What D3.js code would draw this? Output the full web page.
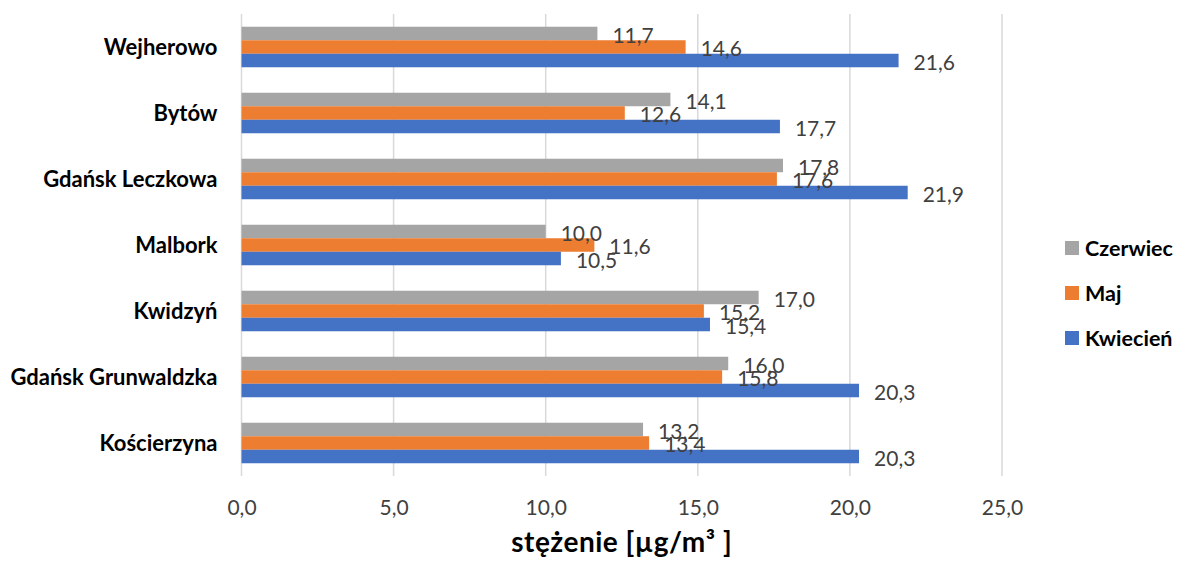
<!DOCTYPE html>
<html><head><meta charset="utf-8">
<script src="https://cdn.jsdelivr.net/npm/d3@7"></script>
<style>body{margin:0;background:#fff}svg{display:block}</style>
</head><body>
<svg id="c" width="1178" height="565"></svg>
<script>
const categories = ["Wejherowo","Bytów","Gdańsk Leczkowa","Malbork","Kwidzyń","Gdańsk Grunwaldzka","Kościerzyna"];
const seriesNames = ["Czerwiec","Maj","Kwiecień"];
const czerwiec = [11.7,14.1,17.8,10.0,17.0,16.0,13.2];
const maj = [14.6,12.6,17.6,11.6,15.2,15.8,13.4];
const kwiecien = [21.6,17.7,21.9,10.5,15.4,20.3,20.3];
const tickValues = [0,5,10,15,20,25];
const colors = ["#A5A5A5","#ED7D31","#4472C4"];
const axisTitle = "stężenie [µg/m³ ]";

const seriesValues = [czerwiec, maj, kwiecien];
const fmt = v => d3.format(".1f")(v).replace(".", ",");
const font = "Lato, 'Open Sans', sans-serif";

const svg = d3.select("#c");
const pLeft = 241.5, pRight = 1002, pTop = 14, pBottom = 476;
const x = d3.scaleLinear().domain([0,25]).range([pLeft,pRight]);
const y0 = d3.scaleBand().domain(categories).range([pTop,pBottom]).paddingInner(0.386).paddingOuter(0.193);
const y1 = d3.scaleBand().domain(seriesNames).range([0,y0.bandwidth()]);

// gridlines
svg.append("g").selectAll("line").data(tickValues).join("line")
  .attr("x1", d=>x(d)).attr("x2", d=>x(d)).attr("y1", pTop).attr("y2", pBottom)
  .attr("stroke", "#D9D9D9").attr("stroke-width", 1.5);

// bars
const groups = svg.append("g").selectAll("g").data(categories).join("g")
  .attr("transform", d=>`translate(0,${y0(d)})`);
groups.selectAll("rect").data((c,i)=>seriesNames.map((s,j)=>({s, j, v: seriesValues[j][i]}))).join("rect")
  .attr("x", x(0)).attr("y", d=>y1(d.s)).attr("height", y1.bandwidth())
  .attr("width", d=>x(d.v)-x(0)).attr("fill", d=>colors[d.j]);

// value labels
groups.selectAll("text").data((c,i)=>seriesNames.map((s,j)=>({s, j, v: seriesValues[j][i]}))).join("text")
  .attr("x", d=>x(d.v)+15).attr("y", d=>y1(d.s)+y1.bandwidth()/2+1)
  .attr("dominant-baseline","central")
  .attr("font-family", font).attr("font-size", 21).attr("fill", "#404040")
  .text(d=>fmt(d.v));

// category labels
const yAxis = d3.axisLeft(y0).tickSize(0).tickPadding(24);
const ya = svg.append("g").attr("transform", `translate(${pLeft},0)`).call(yAxis);
ya.select(".domain").remove();
ya.selectAll("text").attr("font-family", font).attr("font-size", 22).attr("font-weight", "bold").attr("fill", "#000").attr("dy", "0.35em");

// x axis tick labels
const xAxis = d3.axisBottom(x).tickValues(tickValues).tickSize(0).tickPadding(0).tickFormat(fmt);
const xa = svg.append("g").attr("transform", `translate(0,${pBottom+32})`).call(xAxis);
xa.select(".domain").remove();
xa.selectAll("text").attr("font-family", font).attr("font-size", 21).attr("fill", "#404040").attr("dy","0.35em");

// axis title
svg.append("text").attr("x", (pLeft+pRight)/2).attr("y", 552).attr("text-anchor","middle")
  .attr("font-family", font).attr("font-size", 28).attr("font-weight","bold").attr("fill","#000")
  .attr("letter-spacing", 0.5)
  .text(axisTitle);

// legend
const lg = svg.append("g").selectAll("g").data(seriesNames).join("g")
  .attr("transform", (d,i)=>`translate(1065,${248 + i*45})`);
lg.append("rect").attr("x",0).attr("y",-7).attr("width",14).attr("height",14).attr("fill",(d,i)=>colors[i]);
lg.append("text").attr("x",20).attr("y",0).attr("dominant-baseline","central")
  .attr("font-family", font).attr("font-size", 21.5).attr("font-weight","bold").attr("fill","#000")
  .text(d=>d);
</script>
</body></html>
